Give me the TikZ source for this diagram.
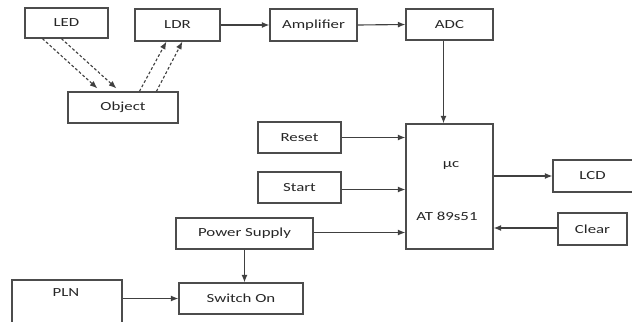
\documentclass[tikz,border=0pt]{standalone}
\usepackage{fontspec}
\setmainfont{Carlito}
\usetikzlibrary{arrows.meta,calc}
\newcommand{\wtxt}[1]{\scalebox{1.36}[1]{#1}}

\begin{document}
\begin{tikzpicture}[x=0.025cm,y=-0.025cm]
\tikzstyle{blok}=[draw=black!70, line width=0.85pt, inner sep=0pt, text=black!85, font=\fontsize{8.8}{10}\selectfont]
\tikzstyle{sz}=[minimum width=#1*0.025cm]
\tikzstyle{wire}=[draw=black!75, line width=0.8pt, -{Latex[length=0.19cm,width=0.15cm]}]
\tikzstyle{ray}=[wire, dash pattern=on 2pt off 1.5pt]
\useasboundingbox (0,0) rectangle (632,322);
\clip (0,0) rectangle (632,322);
\node[blok, sz=83, minimum height=0.75cm] (led) at (66.5,23) {\wtxt{LED}};
\node[blok, sz=85, minimum height=0.8cm] (ldr) at (177.5,25) {\wtxt{LDR}};
\node[blok, sz=87, minimum height=0.8cm] (amp) at (313.5,25) {\wtxt{Amplifier}};
\node[blok, sz=87, minimum height=0.775cm] (adc) at (449.5,24.5) {\wtxt{ADC}};
\node[blok, sz=110, minimum height=0.775cm] (obj) at (123,107.5) {\wtxt{Object}};
\node[blok, sz=83, minimum height=0.775cm] (reset) at (299.5,137.5) {\wtxt{Reset}};
\node[blok, sz=83, minimum height=0.775cm] (start) at (299.5,187.5) {\wtxt{Start}};
\node[blok, sz=137, minimum height=0.775cm] (psu) at (244.5,233.5) {\wtxt{Power Supply}\hspace{0.5cm}};
\node[blok, sz=124, minimum height=0.775cm] (sw) at (241,298.5) {\wtxt{Switch On}};
\node[blok, sz=110, minimum height=1.5cm] (pln) at (67,310) {};
\node[blok, sz=87, minimum height=3.125cm] (uc) at (449.5,186.5) {};
\node[blok, sz=87, minimum height=0.8cm] (lcd) at (596.5,176) {\hspace{-0.2cm}\wtxt{LCD}};
\node[blok, sz=69, minimum height=0.8cm] (clr) at (592.5,229) {\wtxt{Clear}};
\node[blok, draw=none] (plntxt) at (66,293) {\wtxt{PLN}};
\node[blok, draw=none] (uctop) at (451,165) {\wtxt{\textmu c}};
\node[blok, draw=none] (ucpart) at (447,216) {\wtxt{AT 89s51}};
\draw[ray] ($(led.south west)+(18,0)$) -- ($(obj.north west)+(30,-3)$);
\draw[ray] ($(led.south west)+(37,0)$) -- ($(obj.north west)+(49,-3)$);
\draw[ray] ($(obj.north west)+(72,0)$) -- ($(ldr.south west)+(32,0)$);
\draw[ray] ($(obj.north west)+(89,0)$) -- ($(ldr.south west)+(48,0)$);
\coordinate (adcout) at ($(adc.south)+(-6,0)$);
\coordinate (stout) at ($(start.east)+(0,2)$);
\coordinate (psout) at ($(psu.east)+(0,-1)$);
\coordinate (clrout) at ($(clr.west)+(0,-1)$);
\draw[wire] (ldr.east) -- (amp.west);
\draw[wire] (amp.east) -- (adc.west);
\draw[wire] (adcout) -- (adcout |- uc.north);
\draw[wire] (reset.east) -- (reset.east -| uc.west);
\draw[wire] (stout) -- (stout -| uc.west);
\draw[wire] (psout) -- (psout -| uc.west);
\draw[wire] (uc.east |- lcd.west) -- (lcd.west);
\draw[wire] (clrout) -- (clrout -| uc.east);
\draw[wire] (psu.south) -- (psu.south |- sw.north);
\draw[wire] (sw.west -| pln.east) -- (sw.west);
\end{tikzpicture}
\end{document}
